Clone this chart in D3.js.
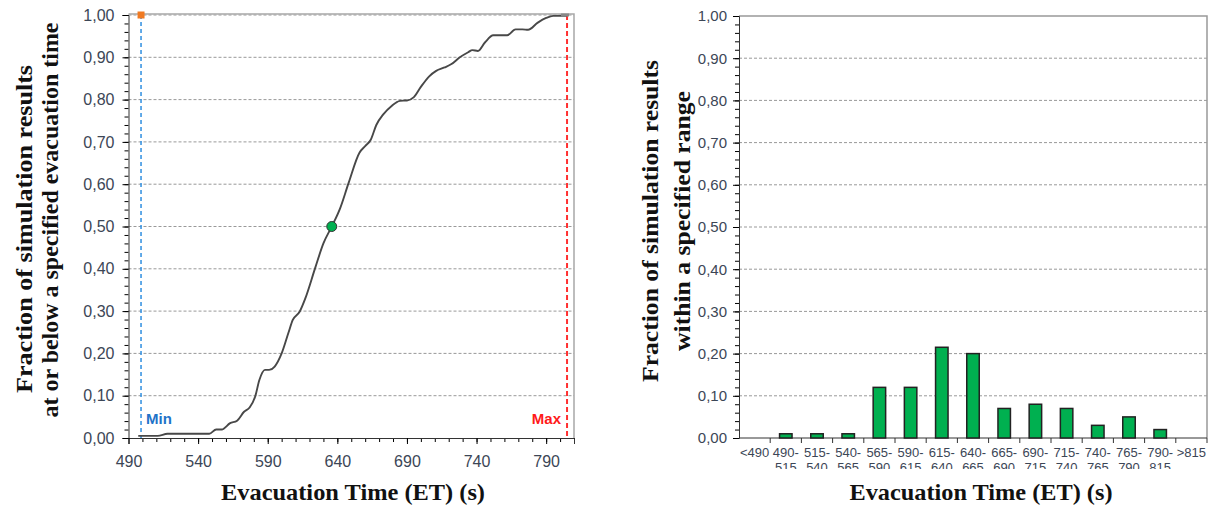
<!DOCTYPE html>
<html>
<head>
<meta charset="utf-8">
<script src="https://cdn.jsdelivr.net/npm/d3@7"></script>
<style>
  body { margin: 0; background: #fff; }
  svg { display: block; font-family: "Liberation Sans", Arial, sans-serif; }
  .title { font-family: "Liberation Serif", serif; font-weight: bold; font-size: 24px; fill: #111; }
  .tick text { fill: #3c4656; }
  .domain { stroke: #333; }
</style>
</head>
<body>
<div id="target"></div>
<script>

// cumulative curve
const cdfTime = [497, 511, 518, 548, 553, 557, 563, 568, 573, 577, 581, 584, 588, 591, 595, 600, 605, 608, 613, 617,
  624, 630, 636, 642, 648, 656, 660, 664, 668, 673, 679, 685, 690, 695, 700, 706, 711, 717, 722, 728,
  734, 737, 741, 746, 752, 757, 762, 768, 773, 777, 784, 790, 795, 805];
const cdfFrac = [0.005, 0.005, 0.01, 0.01, 0.02, 0.02, 0.035, 0.041, 0.062, 0.072, 0.098, 0.137, 0.161, 0.161, 0.169, 0.2, 0.25, 0.279, 0.299, 0.33,
  0.401, 0.46, 0.5, 0.543, 0.602, 0.675, 0.69, 0.705, 0.74, 0.765, 0.785, 0.797, 0.798, 0.806, 0.83, 0.855, 0.868, 0.876, 0.884, 0.9,
  0.912, 0.917, 0.915, 0.935, 0.952, 0.952, 0.952, 0.966, 0.966, 0.965, 0.982, 0.993, 0.998, 0.998];

const minTime = 499, maxTime = 805;
const medianTime = 636, medianFrac = 0.5;

// histogram, right panel
const binLabels = ["<490", "490-515", "515-540", "540-565", "565-590", "590-615", "615-640", "640-665",
  "665-690", "690-715", "715-740", "740-765", "765-790", "790-815", ">815"];
const binFrac = [0, 0.01, 0.01, 0.01, 0.12, 0.12, 0.215, 0.2, 0.07, 0.08, 0.07, 0.03, 0.05, 0.02, 0];

const yTicks = [0, 0.1, 0.2, 0.3, 0.4, 0.5, 0.6, 0.7, 0.8, 0.9, 1.0];
const xTicks = [490, 540, 590, 640, 690, 740, 790];

const width = 1212, height = 506;
const fmt = (d) => d3.format(".2f")(d).replace(".", ",");

const svg = d3.select("#target").append("svg")
  .attr("width", width)
  .attr("height", height);

// rotated / fitted axis title
function title(g, txt, x, y, len, rotate) {
  g.append("text")
    .attr("class", "title")
    .attr("transform", `translate(${x},${y})` + (rotate ? " rotate(-90)" : ""))
    .attr("text-anchor", "middle")
    .attr("dy", rotate ? "0.35em" : 0)
    .attr("textLength", len)
    .attr("lengthAdjust", "spacingAndGlyphs")
    .text(txt);
}

// ---------- left panel ----------
const L = { left: 128.5, right: 574, top: 15, bottom: 438 };

const x1 = d3.scaleLinear().domain([490, 810]).range([L.left, L.right]);
const y1 = d3.scaleLinear().domain([0, 1]).range([L.bottom, L.top]);

const g1 = svg.append("g");

g1.selectAll(".grid1")
  .data(yTicks.slice(1))
  .enter()
  .append("line")
  .attr("x1", L.left).attr("x2", L.right)
  .attr("y1", (d) => y1(d)).attr("y2", (d) => y1(d))
  .attr("stroke", "#999")
  .attr("stroke-dasharray", "3,2");

// frame top / right
g1.append("path")
  .attr("d", `M${L.left},${L.top - 1}H${L.right}V${L.bottom}`)
  .attr("fill", "none")
  .attr("stroke", "#a8a8a8")
  .attr("stroke-width", 1.5);

// minor ticks
g1.append("g")
  .attr("transform", `translate(${L.left},0)`)
  .call(d3.axisLeft(y1).tickValues(d3.range(0, 1.001, 0.02)).tickSize(4).tickFormat(""))
  .call((g) => g.select(".domain").remove());
g1.append("g")
  .attr("transform", `translate(0,${L.bottom})`)
  .call(d3.axisBottom(x1).tickValues(d3.range(500, 811, 10)).tickSize(4).tickFormat(""))
  .call((g) => g.select(".domain").remove());

g1.append("g")
  .attr("transform", `translate(${L.left},0)`)
  .call(d3.axisLeft(y1).tickValues(yTicks).tickSize(6).tickPadding(8).tickFormat(fmt))
  .call((g) => g.selectAll("text").style("font-size", "16px"));

g1.append("g")
  .attr("transform", `translate(0,${L.bottom})`)
  .call(d3.axisBottom(x1).tickValues(xTicks).tickSize(6).tickPadding(12))
  .call((g) => g.selectAll("text").style("font-size", "16px"));

// min / max markers
g1.append("line")
  .attr("x1", x1(minTime)).attr("x2", x1(minTime))
  .attr("y1", y1(1)).attr("y2", L.bottom)
  .attr("stroke", "#2f8fe0").attr("stroke-width", 1.5)
  .attr("stroke-dasharray", "4,3");
g1.append("line")
  .attr("x1", x1(maxTime)).attr("x2", x1(maxTime))
  .attr("y1", y1(1)).attr("y2", L.bottom)
  .attr("stroke", "#ff3030").attr("stroke-width", 2)
  .attr("stroke-dasharray", "5,3");

g1.append("text")
  .attr("x", x1(minTime) + 5).attr("y", L.bottom - 14)
  .attr("fill", "#1f73c8").style("font-weight", "bold").style("font-size", "15px")
  .text("Min");
g1.append("text")
  .attr("x", x1(maxTime) - 6).attr("y", L.bottom - 14)
  .attr("text-anchor", "end")
  .attr("fill", "#ff1a1a").style("font-weight", "bold").style("font-size", "15px")
  .text("Max");

const line = d3.line()
  .x((d, i) => x1(cdfTime[i]))
  .y((d) => y1(d))
  .curve(d3.curveMonotoneX);

g1.append("path")
  .attr("d", line(cdfFrac))
  .attr("fill", "none")
  .attr("stroke", "#484848")
  .attr("stroke-width", 1.9);

g1.append("rect")
  .attr("x", x1(maxTime) - 6).attr("y", y1(1) - 1.5)
  .attr("width", 8).attr("height", 3)
  .attr("fill", "#888");

g1.append("rect")
  .attr("x", x1(minTime) - 3.5).attr("y", y1(1) - 3.5)
  .attr("width", 7).attr("height", 7)
  .attr("fill", "#f07a22");

g1.append("circle")
  .attr("cx", x1(medianTime)).attr("cy", y1(medianFrac))
  .attr("r", 5)
  .attr("fill", "#00b050")
  .attr("stroke", "#333")
  .attr("stroke-width", 1);

title(g1, "Evacuation Time (ET) (s)", 353, 500, 264, false);
title(g1, "Fraction of simulation results", 24, 229, 328, true);
title(g1, "at or below a specified evacuation time", 50, 220, 395, true);

// ---------- right panel ----------
const R = { left: 739, right: 1207, top: 16, bottom: 438 };

const x2 = d3.scaleBand().domain(binLabels).range([R.left, R.right]).paddingInner(0).paddingOuter(0);
const y2 = d3.scaleLinear().domain([0, 1]).range([R.bottom, R.top]);

const g2 = svg.append("g");

g2.selectAll(".grid2")
  .data(yTicks.slice(1, -1))
  .enter()
  .append("line")
  .attr("x1", R.left).attr("x2", R.right)
  .attr("y1", (d) => y2(d)).attr("y2", (d) => y2(d))
  .attr("stroke", "#999")
  .attr("stroke-dasharray", "3,2");

g2.append("path")
  .attr("d", `M${R.left},${R.top}H${R.right}V${R.bottom}`)
  .attr("fill", "none")
  .attr("stroke", "#999")
  .attr("stroke-width", 1.5);

g2.append("g")
  .attr("transform", `translate(${R.left},0)`)
  .call(d3.axisLeft(y2).tickValues(d3.range(0, 1.001, 0.02)).tickSize(4).tickFormat(""))
  .call((g) => g.select(".domain").remove());

g2.append("g")
  .attr("transform", `translate(${R.left},0)`)
  .call(d3.axisLeft(y2).tickValues(yTicks).tickSize(6).tickPadding(6).tickFormat(fmt))
  .call((g) => g.selectAll("text").style("font-size", "15px"));

// x axis: ticks on band boundaries
const bw = x2.bandwidth();
g2.append("line")
  .attr("x1", R.left).attr("x2", R.right)
  .attr("y1", R.bottom).attr("y2", R.bottom)
  .attr("stroke", "#333");
g2.selectAll(".btick")
  .data(binLabels)
  .enter()
  .append("line")
  .attr("x1", (d) => x2(d) + bw).attr("x2", (d) => x2(d) + bw)
  .attr("y1", R.bottom).attr("y2", R.bottom + 5)
  .attr("stroke", "#333");

svg.append("clipPath").attr("id", "lblclip")
  .append("rect").attr("x", 700).attr("y", 440).attr("width", 512).attr("height", 29);

const lbl = g2.append("g").attr("clip-path", "url(#lblclip)");
binLabels.forEach((b) => {
  const parts = b.includes("-") ? [b.split("-")[0] + "-", b.split("-")[1]] : [b];
  const t = lbl.append("text")
    .attr("x", x2(b) + bw / 2)
    .attr("y", 457)
    .attr("text-anchor", "middle")
    .attr("fill", "#3c4656")
    .style("font-size", "13px");
  parts.forEach((p, i) => {
    t.append("tspan")
      .attr("x", x2(b) + bw / 2)
      .attr("dy", i === 0 ? 0 : 14.5)
      .text(p);
  });
});

g2.selectAll(".bar")
  .data(binLabels.filter((d, i) => binFrac[i] > 0))
  .enter()
  .append("rect")
  .attr("x", (d) => x2(d) + bw * 0.3)
  .attr("width", bw * 0.4)
  .attr("y", (d) => y2(binFrac[binLabels.indexOf(d)]))
  .attr("height", (d) => R.bottom - y2(binFrac[binLabels.indexOf(d)]))
  .attr("fill", "#00b050")
  .attr("stroke", "#222")
  .attr("stroke-width", 1.5);

title(g2, "Evacuation Time (ET) (s)", 981, 500, 263, false);
title(g2, "Fraction of simulation results", 650, 221, 322, true);
title(g2, "within a specified range", 682, 221, 260, true);

</script>
</body>
</html>
